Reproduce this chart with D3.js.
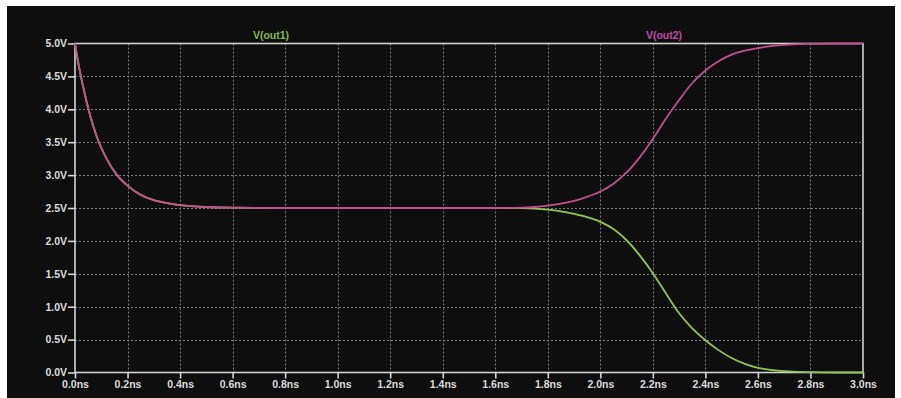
<!DOCTYPE html>
<html>
<head>
<meta charset="utf-8">
<script src="https://cdn.jsdelivr.net/npm/d3@7"></script>
<style>
  html, body { margin: 0; padding: 0; background: #ffffff; }
  svg { display: block; }
</style>
</head>
<body>
<svg id="chart" width="901" height="398"></svg>
<script>
// Transient simulation: two complementary outputs settling and splitting
const timeNs = [0, 0.01, 0.02, 0.03, 0.05, 0.07, 0.09, 0.12, 0.16, 0.2, 0.25, 0.3, 0.35, 0.4, 0.5, 0.6,
  0.8, 1.0, 1.2, 1.4, 1.6, 1.7, 1.75, 1.8, 1.85, 1.9, 1.95, 2.0, 2.05, 2.1, 2.15, 2.2, 2.25, 2.3,
  2.35, 2.4, 2.45, 2.5, 2.55, 2.6, 2.65, 2.7, 2.8, 2.9, 3.0];

const vOut2 = [5.0, 4.76, 4.55, 4.36, 4.02, 3.74, 3.51, 3.25, 3.0, 2.84, 2.7, 2.62, 2.575, 2.545, 2.515, 2.505,
  2.5, 2.5, 2.5, 2.5, 2.5, 2.505, 2.515, 2.535, 2.565, 2.61, 2.67, 2.75, 2.87, 3.04, 3.27, 3.55, 3.86, 4.14,
  4.4, 4.59, 4.73, 4.83, 4.89, 4.93, 4.96, 4.98, 4.995, 5.0, 5.0];

const vOut1 = [5.0, 4.76, 4.55, 4.36, 4.02, 3.74, 3.51, 3.25, 3.0, 2.84, 2.7, 2.62, 2.575, 2.545, 2.515, 2.505,
  2.5, 2.5, 2.5, 2.5, 2.5, 2.497, 2.49, 2.475, 2.45, 2.41, 2.36, 2.29, 2.18, 2.01, 1.78, 1.51, 1.2, 0.9,
  0.67, 0.49, 0.34, 0.22, 0.13, 0.07, 0.04, 0.02, 0.005, 0.0, 0.0];

const xTicks = [0, 0.2, 0.4, 0.6, 0.8, 1.0, 1.2, 1.4, 1.6, 1.8, 2.0, 2.2, 2.4, 2.6, 2.8, 3.0];
const yTicks = [0, 0.5, 1.0, 1.5, 2.0, 2.5, 3.0, 3.5, 4.0, 4.5, 5.0];

const seriesNames = ["V(out1)", "V(out2)"];
const seriesColors = ["#93c556", "#c0518f"];
const legendColors = ["#86b84a", "#c44aa8"];

const svg = d3.select("#chart");
const W = 901, H = 398;
const plot = { left: 75, top: 43.5, right: 863, bottom: 372.5 };

// dark panel
svg.append("rect").attr("x", 7).attr("y", 6).attr("width", 888).attr("height", H - 6)
  .attr("fill", "#0e0e0e");

const x = d3.scaleLinear().domain([0, 3]).range([plot.left, plot.right]);
const y = d3.scaleLinear().domain([0, 5]).range([plot.bottom, plot.top]);

// dotted grid
const grid = svg.append("g").attr("stroke", "#a0a0a0").attr("stroke-width", 1)
  .attr("stroke-dasharray", "2,2").attr("opacity", 0.75);
grid.selectAll("line.v").data(xTicks.slice(1, -1)).join("line")
  .attr("x1", d => Math.round(x(d)) + 0.5).attr("x2", d => Math.round(x(d)) + 0.5)
  .attr("y1", plot.top).attr("y2", plot.bottom);
grid.selectAll("line.h").data(yTicks.slice(1, -1)).join("line")
  .attr("y1", d => Math.round(y(d)) + 0.5).attr("y2", d => Math.round(y(d)) + 0.5)
  .attr("x1", plot.left).attr("x2", plot.right);

// frame
svg.append("rect").attr("x", plot.left).attr("y", plot.top)
  .attr("width", plot.right - plot.left).attr("height", plot.bottom - plot.top)
  .attr("fill", "none").attr("stroke", "#d4d4d4").attr("stroke-width", 1.6);

const fontStyle = sel => sel
  .attr("font-family", "'Liberation Sans', Arial, sans-serif")
  .attr("font-weight", "bold").attr("font-size", 10.5).attr("fill", "#dcdcdc");

// axes
const yAxis = d3.axisLeft(y).tickValues(yTicks).tickSize(7).tickPadding(1)
  .tickFormat(d => d3.format(".1f")(d) + "V");
const gy = svg.append("g").attr("transform", `translate(${plot.left},0)`).call(yAxis);
gy.select(".domain").remove();
gy.selectAll(".tick line").attr("stroke", "#d4d4d4").attr("stroke-width", 1.6);
gy.selectAll(".tick text").call(fontStyle);

const xAxis = d3.axisBottom(x).tickValues(xTicks).tickSize(6).tickPadding(2)
  .tickFormat(d => d3.format(".1f")(d) + "ns");
const gx = svg.append("g").attr("transform", `translate(0,${plot.bottom})`).call(xAxis);
gx.select(".domain").remove();
gx.selectAll(".tick line").attr("stroke", "#d4d4d4").attr("stroke-width", 1.6);
gx.selectAll(".tick text").call(fontStyle);

// traces
const line = d3.line().x(d => x(d[0])).y(d => y(d[1])).curve(d3.curveMonotoneX);
[vOut1, vOut2].forEach((vals, i) => {
  svg.append("path")
    .datum(timeNs.map((t, k) => [t, vals[k]]))
    .attr("d", line)
    .attr("fill", "none")
    .attr("stroke", seriesColors[i])
    .attr("stroke-width", 1.8)
    .attr("stroke-linejoin", "round");
});

// trace labels
const legendX = [271, 664];
seriesNames.forEach((name, i) => {
  svg.append("text").attr("x", legendX[i]).attr("y", 39)
    .attr("text-anchor", "middle")
    .call(fontStyle).attr("fill", legendColors[i])
    .text(name);
});
</script>
</body>
</html>
